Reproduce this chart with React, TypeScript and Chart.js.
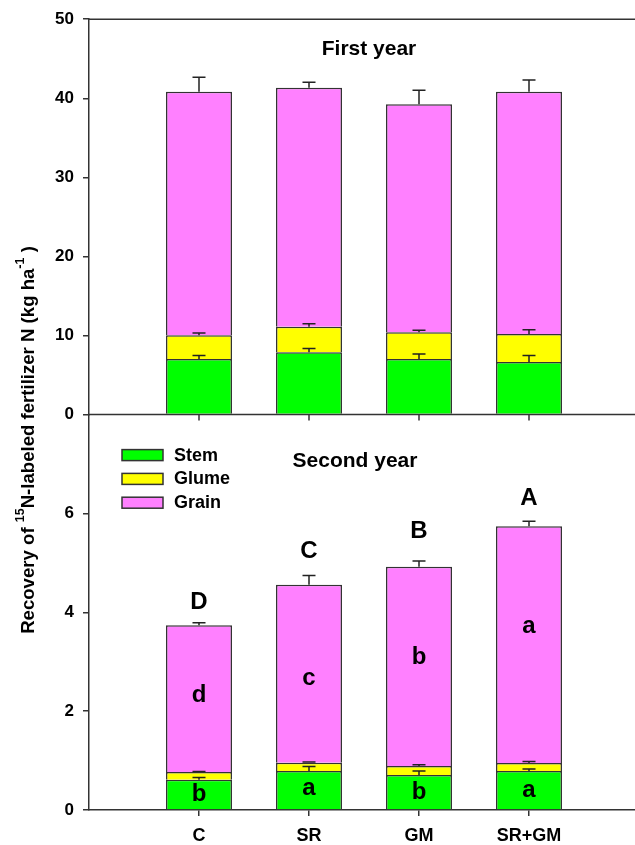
import React, { useEffect, useRef } from 'react';
import { Chart, registerables } from 'chart.js';
Chart.register(...registerables);

const categories = ['C', 'SR', 'GM', 'SR+GM'];
const seriesNames = ['Stem', 'Glume', 'Grain'];
const seriesColors = ['#00FF00', '#FFFF00', '#FF80FF'];
const panelTitles = ['First year', 'Second year'];

// First year
const stem1 = [7.04, 7.88, 7.04, 6.66];
const glume1 = [2.99, 3.24, 3.36, 3.53];
const grain1 = [30.8, 30.22, 28.84, 30.64];
const stem1Err = [0.43, 0.47, 0.63, 0.81];
const glume1Err = [0.29, 0.38, 0.26, 0.55];
const grain1Err = [1.82, 0.68, 1.77, 1.48];

// Second year
const stem2 = [0.61, 0.79, 0.71, 0.79];
const glume2 = [0.16, 0.165, 0.18, 0.16];
const grain2 = [2.97, 3.6, 4.03, 4.79];
const stem2Err = [0.05, 0.09, 0.08, 0.04];
const glume2Err = [0.01, 0.015, 0.025, 0.03];
const grain2Err = [0.05, 0.19, 0.12, 0.1];

// significance letters (second year) and their baselines in axis units
const totalLetters2 = ['D', 'C', 'B', 'A'];
const grainLetters2 = ['d', 'c', 'b', 'a'];
const stemLetters2 = ['b', 'a', 'b', 'a'];
const totalLetterAt = [4.06, 5.1, 5.51, 6.18];
const grainLetterAt = [2.18, 2.53, 2.95, 3.59];
const stemLetterAt = [0.19, 0.31, 0.22, 0.27];

const yTopMax = 50;
const yTopStep = 10;
const yBotMax = 8;
const yBotStep = 2;

const FONT = '"Liberation Sans", Arial, sans-serif';
const LINE = '#333333';

const pad = (a: (number | null)[]) => [null, ...a, null];

export default function App() {
  const ref = useRef<HTMLCanvasElement>(null);
  useEffect(() => {
    const canvas = ref.current!;
    const mk = (label: string, data: number[], err: number[], color: string, axis: string) => ({
      label,
      data: pad(data),
      errors: pad(err),
      yAxisID: axis,
      backgroundColor: color,
      borderColor: LINE,
      borderWidth: 1.5,
      categoryPercentage: 0.6,
      barPercentage: 1,
    });
    const datasets: any[] = [
      mk(seriesNames[0], stem1, stem1Err, seriesColors[0], 'yTop'),
      mk(seriesNames[1], glume1, glume1Err, seriesColors[1], 'yTop'),
      mk(seriesNames[2], grain1, grain1Err, seriesColors[2], 'yTop'),
      mk(seriesNames[0], stem2, stem2Err, seriesColors[0], 'yBot'),
      mk(seriesNames[1], glume2, glume2Err, seriesColors[1], 'yBot'),
      mk(seriesNames[2], grain2, grain2Err, seriesColors[2], 'yBot'),
    ];

    const decor = {
      id: 'decor',
      afterDatasetsDraw(chart: any) {
        const ctx = chart.ctx;
        const xs = chart.scales.x;
        // error bars
        ctx.save();
        ctx.strokeStyle = '#222';
        ctx.lineWidth = 1.5;
        chart.data.datasets.forEach((ds: any, di: number) => {
          const meta = chart.getDatasetMeta(di);
          const ys = chart.scales[ds.yAxisID];
          meta.data.forEach((el: any, i: number) => {
            const e = ds.errors[i];
            if (e == null || ds.data[i] == null) return;
            const v = ys.getValueForPixel(el.y);
            const yE = ys.getPixelForValue(v + e);
            ctx.beginPath();
            ctx.moveTo(el.x, el.y);
            ctx.lineTo(el.x, yE);
            ctx.moveTo(el.x - 6.5, yE);
            ctx.lineTo(el.x + 6.5, yE);
            ctx.stroke();
          });
        });
        ctx.restore();

        // letters
        const yb = chart.scales.yBot;
        ctx.save();
        ctx.fillStyle = '#000';
        ctx.textAlign = 'center';
        ctx.textBaseline = 'alphabetic';
        ctx.font = `bold 24px ${FONT}`;
        categories.forEach((c, i) => {
          const x = xs.getPixelForValue(i + 1);
          ctx.fillText(totalLetters2[i], x, yb.getPixelForValue(totalLetterAt[i]));
          ctx.fillText(grainLetters2[i], x, yb.getPixelForValue(grainLetterAt[i]));
          ctx.fillText(stemLetters2[i], x, yb.getPixelForValue(stemLetterAt[i]));
        });
        ctx.restore();
      },
      afterDraw(chart: any) {
        const ctx = chart.ctx;
        const { left, right, top } = chart.chartArea;
        const xs = chart.scales.x;
        const yt = chart.scales.yTop;
        const yb = chart.scales.yBot;
        ctx.save();
        ctx.strokeStyle = LINE;
        ctx.lineWidth = 1.5;
        // top frame line
        ctx.beginPath();
        ctx.moveTo(left, top);
        ctx.lineTo(right, top);
        ctx.stroke();
        // panel separating x-axis with ticks
        const y0 = yt.getPixelForValue(0);
        ctx.beginPath();
        ctx.moveTo(left, y0);
        ctx.lineTo(right, y0);
        categories.forEach((c, i) => {
          const x = xs.getPixelForValue(i + 1);
          ctx.moveTo(x, y0);
          ctx.lineTo(x, y0 + 6);
        });
        ctx.stroke();
        ctx.restore();

        // panel titles
        ctx.save();
        ctx.fillStyle = '#000';
        ctx.textAlign = 'center';
        ctx.textBaseline = 'alphabetic';
        ctx.font = `bold 21px ${FONT}`;
        ctx.fillText(panelTitles[0], 369, yt.getPixelForValue(yTopMax) + 36);
        ctx.fillText(panelTitles[1], 355, yb.getPixelForValue(yBotMax) + 52);
        ctx.restore();

        // legend
        ctx.save();
        ctx.font = `bold 18px ${FONT}`;
        ctx.textAlign = 'left';
        ctx.textBaseline = 'middle';
        const lx = 122, ly = yb.getPixelForValue(yBotMax) + 35;
        seriesNames.forEach((n, i) => {
          const y = ly + i * 23.8;
          ctx.fillStyle = seriesColors[i];
          ctx.fillRect(lx, y, 41, 11);
          ctx.strokeStyle = LINE;
          ctx.lineWidth = 1.5;
          ctx.strokeRect(lx, y, 41, 11);
          ctx.fillStyle = '#000';
          ctx.fillText(n, lx + 52, y + 6);
        });
        ctx.restore();

        // y-axis title with superscripts
        ctx.save();
        ctx.translate(33.5, 440);
        ctx.rotate(-Math.PI / 2);
        ctx.fillStyle = '#000';
        ctx.textBaseline = 'alphabetic';
        ctx.textAlign = 'left';
        const parts = [
          { t: 'Recovery of ', s: false },
          { t: '15', s: true },
          { t: 'N-labeled fertilizer N (kg ha', s: false },
          { t: '-1', s: true },
          { t: ' )', s: false },
        ];
        const fMain = `bold 18.6px ${FONT}`;
        const fSup = `bold 12.5px ${FONT}`;
        let total = 0;
        parts.forEach((p) => {
          ctx.font = p.s ? fSup : fMain;
          total += ctx.measureText(p.t).width;
        });
        let x = -total / 2;
        parts.forEach((p) => {
          ctx.font = p.s ? fSup : fMain;
          ctx.fillText(p.t, x, p.s ? -9.5 : 0);
          x += ctx.measureText(p.t).width;
        });
        ctx.restore();
      },
    };

    const yCommon = (max: number, step: number) => ({
      type: 'linear',
      position: 'left',
      stack: 'panels',
      stackWeight: 1,
      stacked: true,
      min: 0,
      max,
      afterFit: (s: any) => {
        s.width = 89;
      },
      grid: {
        display: true,
        drawOnChartArea: false,
        drawTicks: true,
        tickLength: 6,
        lineWidth: 1.5,
        tickColor: (c: any) => (c.tick && c.tick.value === yBotMax && max === yBotMax ? 'rgba(0,0,0,0)' : LINE),
      },
      border: { display: true, color: LINE, width: 1.5 },
      ticks: {
        stepSize: step,
        padding: 9,
        color: '#000',
        font: { family: FONT, size: 17, weight: 'bold' },
        callback: (v: number) => (max === yBotMax && v === yBotMax ? '' : String(v)),
      },
    });

    const chart = new Chart(canvas, {
      type: 'bar',
      data: { labels: ['', ...categories, ''], datasets },
      options: {
        responsive: false,
        animation: false,
        devicePixelRatio: 1,
        layout: { padding: { top: 17, right: 0, left: 0, bottom: 0 } },
        plugins: { legend: { display: false }, title: { display: false }, tooltip: { enabled: false } },
        scales: {
          x: {
            type: 'category',
            offset: false,
            stacked: true,
            afterFit: (s: any) => {
              s.height = 35;
            },
            grid: {
              display: true,
              offset: false,
              drawOnChartArea: false,
              tickLength: 6,
              lineWidth: 1.5,
              tickColor: (c: any) => (c.index === 0 || c.index === categories.length + 1 ? 'rgba(0,0,0,0)' : LINE),
            },
            border: { display: true, color: LINE, width: 1.5 },
            ticks: {
              autoSkip: false,
              maxRotation: 0,
              padding: 9,
              color: '#000',
              font: { family: FONT, size: 18, weight: 'bold' },
            },
          },
          yBot: yCommon(yBotMax, yBotStep),
          yTop: yCommon(yTopMax, yTopStep),
        } as any,
      },
      plugins: [decor],
    } as any);
    return () => chart.destroy();
  }, []);
  return (
    <div style={{ position: 'fixed', left: 0, top: 0, width: 648, height: 845, background: '#fff' }}>
      <canvas ref={ref} width={648} height={845} style={{ display: 'block' }} />
    </div>
  );
}
